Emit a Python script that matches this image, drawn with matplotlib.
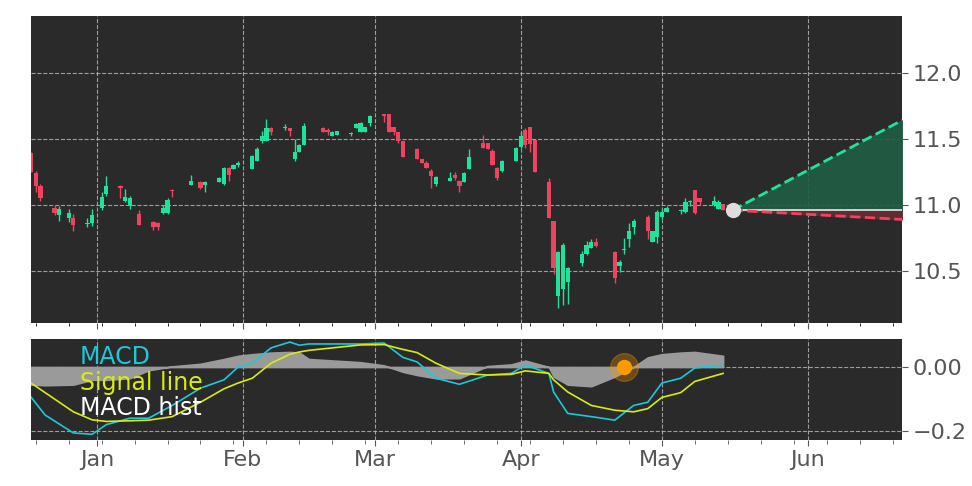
import matplotlib
matplotlib.use("Agg")
import matplotlib.pyplot as plt
import matplotlib.dates as mdates
import numpy as np
import pandas as pd

# ---- candle data: (date, open, high, low, close) ----
dates = ["2022-12-18","2022-12-19","2022-12-20","2022-12-23","2022-12-24","2022-12-26","2022-12-27","2022-12-30","2022-12-31",
 "2023-01-02","2023-01-03","2023-01-06","2023-01-07","2023-01-08","2023-01-10","2023-01-13","2023-01-14","2023-01-15","2023-01-16","2023-01-17",
 "2023-01-21","2023-01-23","2023-01-24","2023-01-27","2023-01-28","2023-01-29","2023-01-30","2023-01-31",
 "2023-02-03","2023-02-04","2023-02-05","2023-02-06","2023-02-07","2023-02-10","2023-02-11","2023-02-12","2023-02-13","2023-02-14",
 "2023-02-18","2023-02-19","2023-02-20","2023-02-21","2023-02-24","2023-02-25","2023-02-26","2023-02-27","2023-02-28",
 "2023-03-03","2023-03-04","2023-03-05","2023-03-06","2023-03-07","2023-03-10","2023-03-11","2023-03-12","2023-03-13","2023-03-14",
 "2023-03-17","2023-03-18","2023-03-19","2023-03-20","2023-03-21","2023-03-24","2023-03-25","2023-03-26","2023-03-27","2023-03-28",
 "2023-03-31","2023-04-01","2023-04-02","2023-04-03","2023-04-04","2023-04-07","2023-04-08","2023-04-09","2023-04-10","2023-04-11",
 "2023-04-14","2023-04-15","2023-04-16","2023-04-17","2023-04-21","2023-04-22","2023-04-23","2023-04-24","2023-04-25",
 "2023-04-28","2023-04-29","2023-04-30","2023-05-01","2023-05-02","2023-05-05","2023-05-06","2023-05-07","2023-05-08","2023-05-09",
 "2023-05-12","2023-05-13","2023-05-14"]
opens = [11.39,11.24,11.14,10.98,10.92,10.90,10.90,10.855,10.86,
 10.98,11.08,11.14,11.03,10.99,10.93,10.87,10.86,10.94,10.94,11.115,
 11.15,11.17,11.15,11.17,11.16,11.28,11.27,11.30,
 11.27,11.33,11.48,11.48,11.58,11.58,11.58,11.35,11.40,11.45,
 11.58,11.57,11.52,11.53,11.535,11.58,11.55,11.55,11.62,
 11.69,11.69,11.59,11.55,11.48,11.42,11.35,11.32,11.26,11.16,
 11.18,11.23,11.18,11.17,11.27,11.47,11.47,11.41,11.28,11.26,
 11.33,11.44,11.57,11.59,11.49,11.17,10.88,10.31,10.36,10.42,
 10.56,10.63,10.67,10.72,10.64,10.54,10.655,10.74,10.83,
 10.91,10.72,10.76,10.91,10.95,10.955,10.95,11.02,11.11,11.05,
 11.00,10.97,11.01]
closes = [11.25,11.14,11.05,10.94,10.97,10.94,10.85,10.865,10.92,
 11.06,11.14,11.13,11.06,11.05,10.85,10.83,10.83,10.98,11.04,11.105,
 11.18,11.13,11.17,11.20,11.28,11.23,11.30,11.32,
 11.37,11.42,11.52,11.58,11.55,11.59,11.56,11.40,11.45,11.60,
 11.55,11.55,11.55,11.56,11.545,11.61,11.62,11.59,11.67,
 11.67,11.55,11.55,11.48,11.36,11.35,11.32,11.28,11.22,11.21,
 11.20,11.20,11.14,11.24,11.36,11.43,11.42,11.30,11.20,11.33,
 11.43,11.52,11.45,11.46,11.25,10.90,10.52,10.64,10.70,10.52,
 10.63,10.70,10.72,10.69,10.45,10.57,10.665,10.80,10.88,
 10.80,10.80,10.95,10.95,10.98,10.965,11.02,11.03,10.94,11.02,
 11.03,11.02,10.96]
highs = [11.40,11.26,11.16,11.00,10.99,10.97,10.93,10.90,10.97,
 11.10,11.22,11.15,11.12,11.07,10.96,10.88,10.87,11.00,11.05,11.12,
 11.23,11.18,11.18,11.21,11.29,11.29,11.31,11.33,
 11.38,11.44,11.56,11.65,11.59,11.61,11.58,11.50,11.46,11.62,
 11.59,11.58,11.56,11.56,11.55,11.62,11.63,11.59,11.68,
 11.69,11.69,11.59,11.55,11.48,11.43,11.35,11.33,11.27,11.22,
 11.25,11.25,11.19,11.25,11.42,11.53,11.47,11.42,11.29,11.34,
 11.44,11.55,11.58,11.59,11.49,11.20,10.88,10.65,10.71,10.53,
 10.65,10.73,10.74,10.75,10.65,10.58,10.75,10.86,10.89,
 10.92,10.80,10.96,10.97,10.99,10.97,11.05,11.04,11.11,11.05,
 11.07,11.04,11.01]
lows = [11.25,11.10,11.03,10.92,10.88,10.87,10.80,10.83,10.84,
 10.96,11.07,11.05,11.02,10.97,10.85,10.81,10.81,10.93,10.93,11.06,
 11.15,11.12,11.10,11.17,11.15,11.18,11.27,11.29,
 11.27,11.33,11.47,11.48,11.53,11.57,11.52,11.33,11.40,11.45,
 11.55,11.53,11.52,11.53,11.52,11.58,11.55,11.55,11.60,
 11.63,11.55,11.53,11.47,11.36,11.35,11.32,11.28,11.13,11.14,
 11.18,11.19,11.10,11.17,11.27,11.43,11.42,11.30,11.19,11.25,
 11.33,11.43,11.43,11.40,11.25,10.90,10.48,10.22,10.24,10.25,
 10.54,10.62,10.67,10.68,10.41,10.49,10.63,10.68,10.78,
 10.74,10.72,10.71,10.89,10.95,10.93,10.94,10.99,10.93,11.00,
 10.99,10.97,10.96]

# ---- projection ----
proj_dates = ["2023-05-16", "2023-06-21"]
proj_base = 10.96
proj_upper = [10.96, 11.64]
proj_lower = [10.96, 10.89]

# ---- MACD panel ----
macd_dates = ["2022-12-18","2022-12-21","2022-12-27","2022-12-31","2023-01-03","2023-01-08","2023-01-12","2023-01-17",
 "2023-01-23","2023-01-28","2023-01-31","2023-02-03","2023-02-07","2023-02-11","2023-02-13","2023-02-15","2023-02-26",
 "2023-03-03","2023-03-07","2023-03-10","2023-03-14","2023-03-19","2023-03-25","2023-03-30","2023-04-02","2023-04-07",
 "2023-04-08","2023-04-11","2023-04-16","2023-04-21","2023-04-25","2023-04-28","2023-05-01","2023-05-05","2023-05-08","2023-05-14"]
macd = [-0.094,-0.15,-0.206,-0.21,-0.18,-0.16,-0.16,-0.12,-0.066,-0.04,0.0,0.012,0.06,0.078,0.068,0.072,0.072,
 0.075,0.03,0.016,-0.035,-0.054,-0.025,-0.02,0.006,-0.02,-0.078,-0.145,-0.155,-0.166,-0.12,-0.11,-0.05,-0.035,-0.003,0.006]
signal = [-0.05,-0.08,-0.14,-0.165,-0.17,-0.168,-0.166,-0.155,-0.11,-0.068,-0.05,-0.035,0.012,0.04,0.047,0.052,0.069,
 0.07,0.055,0.045,0.012,-0.02,-0.025,-0.023,-0.012,-0.02,-0.04,-0.078,-0.12,-0.135,-0.14,-0.13,-0.095,-0.08,-0.045,-0.02]
hist = [-0.055,-0.057,-0.055,-0.04,-0.04,-0.035,-0.01,0.002,0.01,0.025,0.035,0.04,0.045,0.047,0.045,0.025,0.015,
 0.005,-0.015,-0.025,-0.035,-0.035,0.003,0.008,0.02,0.0,-0.03,-0.055,-0.06,-0.03,0.0,0.03,0.04,0.045,0.047,0.035]
cross_date = "2023-04-23"
cross_value = 0.0
macd_ticks = [-0.2, 0.0]
macd_tick_labels = ["\u22120.2", "0.00"]

BG = "#2a2a2a"
GREEN = "#1fe39a"
RED = "#f0435f"
TICK = "#555555"

fig = plt.figure(figsize=(9.72, 4.86), dpi=100)
ax = fig.add_axes([31/972, 1-323/486, 871/972, 307/486])
ax2 = fig.add_axes([31/972, 1-440/486, 871/972, 101/486], sharex=ax)

d = mdates.date2num(pd.to_datetime(dates))
o = np.array(opens); c = np.array(closes); h = np.array(highs); l = np.array(lows)
cols = [GREEN if cc >= oo else RED for oo, cc in zip(o, c)]
ax.vlines(d, l, h, colors=cols, linewidth=1, zorder=3)
body = np.maximum(np.abs(c - o), 0.008)
ax.bar(d, body, bottom=np.minimum(o, c), width=0.9, color=cols, zorder=4)

pd_ = mdates.date2num(pd.to_datetime(proj_dates))
ax.fill_between(pd_, proj_upper, proj_base, color="#1f5e45", alpha=0.9, zorder=2)
ax.fill_between(pd_, proj_lower, proj_base, color="#6a2a35", alpha=0.9, zorder=2)
ax.plot(pd_, [proj_base, proj_base], color="#e8e8e8", lw=1.2, zorder=3)
ax.plot(pd_, proj_upper, color=GREEN, lw=2, ls="--", zorder=4)
ax.plot(pd_, proj_lower, color=RED, lw=2, ls="--", zorder=4)
ax.plot(pd_[0], proj_base, "o", ms=10, color="#dddddd", zorder=5)

md = mdates.date2num(pd.to_datetime(macd_dates))
ax2.fill_between(md, hist, 0, color="#9a9a9a", lw=1.2, edgecolor="#9a9a9a", zorder=2)
ax2.plot(md, macd, color="#1ec8d8", lw=1.2, label="MACD", zorder=3)
ax2.plot(md, signal, color="#d8ec0e", lw=1.2, label="Signal line", zorder=3)
ax2.plot([], [], color="white", label="MACD hist")
cd = mdates.date2num(pd.to_datetime(cross_date))
ax2.plot(cd, cross_value, "o", ms=20, color="#ff9900", alpha=0.3, zorder=4)
ax2.plot(cd, cross_value, "o", ms=10, color="#ff9900", zorder=5)
leg = ax2.legend(loc="upper left", bbox_to_anchor=(0.045, 1.03), frameon=False, handlelength=0,
                 handletextpad=0, fontsize=17, labelspacing=0.05, borderaxespad=0.0)
for t, col in zip(leg.get_texts(), ["#1ec8d8", "#d8ec0e", "white"]):
    t.set_color(col)
for hnd in leg.legend_handles:
    hnd.set_visible(False)

for a in (ax, ax2):
    a.set_facecolor(BG)
    a.grid(True, color="#bbbbbb", ls="--", lw=0.8, alpha=0.8)
    a.set_axisbelow(True)
    a.yaxis.tick_right()
    a.tick_params(colors=TICK, labelsize=16, length=4)
    for s in a.spines.values():
        s.set_visible(False)

ax.set_xlim(mdates.date2num(pd.Timestamp("2022-12-18")), mdates.date2num(pd.Timestamp("2023-06-21")))
ax.set_ylim(10.106, 12.43)
ax.set_yticks([10.5, 11.0, 11.5, 12.0])
ax.yaxis.set_major_formatter(matplotlib.ticker.FormatStrFormatter("%.1f"))
ax2.set_ylim(-0.228, 0.0875)
ax2.set_yticks(macd_ticks)
ax2.set_yticklabels(macd_tick_labels)
ax.xaxis.set_major_locator(mdates.MonthLocator())
ax.xaxis.set_major_formatter(mdates.DateFormatter("%b"))
ax.xaxis.set_minor_locator(mdates.WeekdayLocator(byweekday=mdates.MO))
ax.tick_params(axis="x", which="both", labelbottom=False)
ax2.tick_params(axis="x", which="minor", length=3, colors=TICK)

fig.savefig("out.png", dpi=100, facecolor="white")
